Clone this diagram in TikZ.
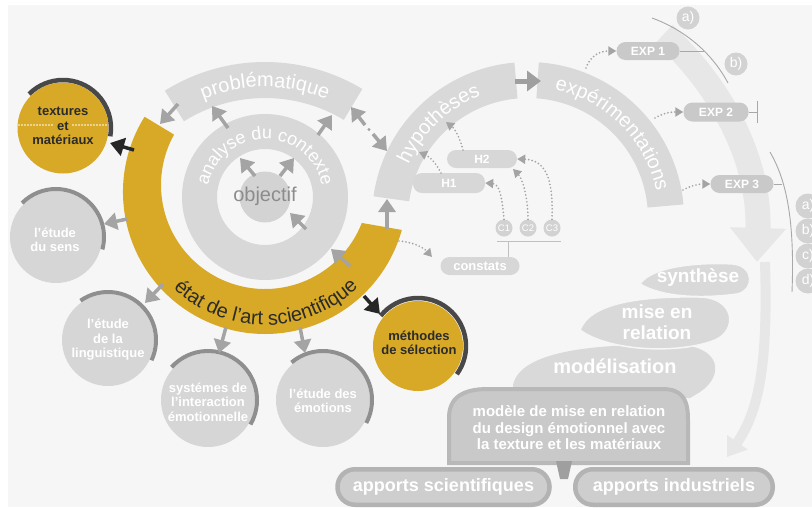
\documentclass[tikz,border=0pt]{standalone}
\usepackage{fontspec}
\setmainfont{Liberation Sans}
\usetikzlibrary{arrows.meta,decorations.text,calc}
\definecolor{bg}{HTML}{F6F6F6}
\definecolor{ltgray}{HTML}{D9D9D9}
\definecolor{ringgray}{HTML}{D8D8D8}
\definecolor{objgray}{HTML}{D3D3D3}
\definecolor{ygold}{HTML}{D7A927}
\definecolor{argray}{HTML}{A4A4A4}
\definecolor{darkar}{HTML}{262626}
\definecolor{circgray}{HTML}{D6D6D6}
\definecolor{arcgray}{HTML}{8F8F8F}
\definecolor{arcdark}{HTML}{484848}
\definecolor{expgray}{HTML}{C9C9C9}
\definecolor{hgray}{HTML}{D7D7D7}
\definecolor{lcgray}{HTML}{D2D2D2}
\definecolor{biggray}{HTML}{E7E7E7}
\definecolor{boxfill}{HTML}{C9C9C9}
\definecolor{boxedge}{HTML}{B8B8B8}
\definecolor{appfill}{HTML}{CECECE}
\definecolor{appedge}{HTML}{B3B3B3}
\definecolor{txtdark}{HTML}{2B2B2B}
\definecolor{objtxt}{HTML}{8C8C8C}
\definecolor{thinln}{HTML}{A8A8A8}
\definecolor{blobgray}{HTML}{D9D9D9}
\definecolor{linkgray}{HTML}{9F9F9F}
\definecolor{brackgray}{HTML}{C0C0C0}
\newcommand{\ringsec}[6]{\fill[#6] ($(#1)+(#4:#3)$) arc[start angle=#4, end angle=#5, radius=#3] -- ($(#1)+(#5:#2)$) arc[start angle=#5, end angle=#4, radius=#2] -- cycle;}
\newcommand{\arctext}[6]{\path[decorate, decoration={text along path, text align=center, text={|#5|#6}}] ($(#1)+(#3:#2)$) arc[start angle=#3, end angle=#4, radius=#2];}
\begin{document}
\begin{tikzpicture}[x=1pt,y=-1pt,
  garr/.style={draw=argray, line width=3.5pt, -{Triangle[length=13pt,width=17pt]}},
  darr/.style={draw=darkar, line width=3.5pt, -{Triangle[length=14pt,width=18pt]}},
  dotarr/.style={draw=argray, line width=1.9pt, dash pattern=on 0pt off 3.5pt, line cap=round, -{Triangle[length=8pt,width=9pt]}},
  gcirc/.style={circle, fill=circgray, minimum size=#1, inner sep=0pt},
  gcirc/.default=92pt,
  ycirc/.style={circle, fill=ygold, minimum size=#1, inner sep=0pt},
  ycirc/.default=90pt,
  wlab/.style={text=white, font=\bfseries\fontsize{13pt}{14.5pt}\selectfont, align=center, inner sep=0pt},
  dlab/.style={text=txtdark, font=\bfseries\fontsize{13pt}{14.5pt}\selectfont, align=center, inner sep=0pt},
  pill/.style={rectangle, rounded corners=9pt, fill=#1, minimum height=18pt, inner sep=0pt, text=white, font=\bfseries\fontsize{12pt}{12pt}\selectfont},
  pill/.default=hgray,
  smallc/.style={circle, fill=lcgray, minimum size=17pt, inner sep=0pt, text=white, font=\fontsize{9.5pt}{10pt}\selectfont},
  letc/.style={circle, fill=lcgray, minimum size=#1, inner sep=0pt, text=white, font=\fontsize{14pt}{14pt}\selectfont},
  letc/.default=24pt,
  bigpill/.style={rectangle, rounded corners=17.5pt, fill=appfill, draw=appedge, line width=4.5pt, minimum height=35.5pt, inner sep=0pt, text=white, font=\bfseries\fontsize{18pt}{18pt}\selectfont},
  blobtxt/.style={text=white, font=\bfseries\fontsize{19pt}{21pt}\selectfont, align=center, inner sep=0pt},
  thinline/.style={draw=thinln, line width=0.9pt},
  bigarrow/.style={draw=biggray, line cap=butt},
  blobedge/.style={draw=bg, line width=1.5pt},
]
\useasboundingbox (0,0) rectangle (812,507);
\fill[white] (0,0) rectangle (812,507);
\fill[bg] (8,5) rectangle (812,507);
\clip (0,0) rectangle (812,507);

\coordinate (O) at (265,197);
\coordinate (P) at (265,251);
\coordinate (HC) at (528,218);
\coordinate (Yo) at (265,192);
\coordinate (Yi) at (265,185);

% big light arrows on the right
\draw[bigarrow, line width=25pt, -{Triangle[length=34pt,width=54pt]}] (664,34) .. controls (722,88) and (760,160) .. (757,262);
\draw[bigarrow, line width=10pt, -{Triangle[length=18pt,width=24pt]}] (765,262) .. controls (768,360) and (760,410) .. (727,457);

% thin curves
\draw[thinline] (652,18) .. controls (685,30) and (712,53) .. (728,83);
\draw[thinline] (770,152) .. controls (785,178) and (795,215) .. (792,292);

% rings
\ringsec{P}{153}{189}{-122}{-59}{ltgray}
\fill[ringgray, even odd rule] (O) circle[radius=83] (O) circle[radius=48];
\node[circle, fill=objgray, minimum size=51pt, inner sep=0pt] (obj) at (O) {};
\node[text=objtxt, font=\fontsize{20pt}{20pt}\selectfont, inner sep=0pt] (objt) at (265,196) {objectif};
\fill[ygold] ($(Yo)+(-148:142)$) arc[start angle=-148, end angle=-344.5, radius=142] -- ($(Yi)+(-338.6:104)$) arc[start angle=-338.6, end angle=-151, radius=104] -- cycle;
\ringsec{HC}{120}{156}{-172}{-95}{ltgray}
\ringsec{HC}{120}{156}{-86}{-5}{ltgray}

% texts along the rings
\arctext{P}{164}{-125}{-55}{\color{white}\fontsize{20pt}{20pt}\selectfont}{problématique}
\arctext{O}{58}{-185}{5}{\color{white}\fontsize{18pt}{18pt}\selectfont}{analyse du contexte}
\arctext{Yo}{133}{-200}{-341}{\color{txtdark}\fontsize{20pt}{20pt}\selectfont}{état de l’art scientifique}
\arctext{HC}{131}{-172}{-95}{\color{white}\fontsize{20pt}{20pt}\selectfont}{hypothèses}
\arctext{HC}{131}{-86}{-4}{\color{white}\fontsize{20pt}{20pt}\selectfont}{expérimentations}

% arrow hyp -> exp
\coordinate (hx1) at (515,81);
\coordinate (hx2) at (541,81);
\draw[draw=linkgray, line width=5pt, -{Triangle[length=14pt,width=20pt]}] (hx1) -- (hx2);

% left circles
\node[ycirc=91pt] (tex) at (63,128) {};
\draw[arcdark, line width=4.5pt] ($(tex)+(-135:48)$) arc[start angle=-135, end angle=10, radius=48];
\draw[white, line width=1.6pt, dash pattern=on 0pt off 3pt, line cap=round] (19,125) -- (54,125);
\draw[white, line width=1.6pt, dash pattern=on 0pt off 3pt, line cap=round] (73,125) -- (107,125);
\node[dlab] (texl) at (63,126) {textures\\et\\matériaux};

\node[gcirc=92pt] (sens) at (56,237) {};
\draw[arcgray, line width=4pt] ($(sens)+(-135:48)$) arc[start angle=-135, end angle=15, radius=48];
\node[wlab] (sensl) at (55,240) {l’étude\\du sens};

\node[gcirc=92pt] (ling) at (108,340) {};
\draw[arcgray, line width=4pt] ($(ling)+(-125:48)$) arc[start angle=-125, end angle=25, radius=48];
\node[wlab] (lingl) at (108,340) {l’étude\\de la\\linguistique};

\node[gcirc=94pt] (sys) at (208,400) {};
\draw[arcgray, line width=4pt] ($(sys)+(-138:49)$) arc[start angle=-138, end angle=30, radius=49];
\node[wlab] (sysl) at (208,402) {systémes de\\l’interaction\\émotionnelle};

\node[gcirc=94pt] (emo) at (323,400) {};
\draw[arcgray, line width=4pt] ($(emo)+(-130:49)$) arc[start angle=-130, end angle=28, radius=49];
\node[wlab] (emol) at (323,401) {l’étude des\\émotions};

\node[ycirc=90pt] (meth) at (418,346) {};
\draw[arcdark, line width=4.5pt] ($(meth)+(-141:48)$) arc[start angle=-141, end angle=36, radius=48];
\node[dlab] (methl) at (419,343) {méthodes\\de sélection};

% solid arrows
\coordinate (a1t) at (178,104); \coordinate (a1h) at (160,124);
\coordinate (a2t) at (228,128); \coordinate (a2h) at (212,106);
\coordinate (a3t) at (318,135); \coordinate (a3h) at (332,115);
\coordinate (hp1) at (365,125); \coordinate (hp1h) at (351,107);
\coordinate (hp2) at (373,134); \coordinate (hp2h) at (387,151);
\coordinate (a6t) at (255,176); \coordinate (a6h) at (240,158);
\coordinate (a7t) at (280,176); \coordinate (a7h) at (294,158);
\coordinate (a8t) at (306,229); \coordinate (a8h) at (290,213);
\coordinate (a9t) at (350,266); \coordinate (a9h) at (331,249);
\coordinate (a10t) at (387,229); \coordinate (a10h) at (387,199);
\coordinate (a11t) at (134,150);
\coordinate (a12t) at (127,219);
\coordinate (a13t) at (163,284);
\coordinate (a14t) at (226,327);
\coordinate (a15t) at (300,327);
\coordinate (a16t) at (364,296);
\draw[garr] (a1t) -- (a1h);
\draw[garr] (a2t) -- (a2h);
\draw[garr] (a3t) -- (a3h);
\draw[garr] (hp1) -- (hp1h);
\draw[garr] (hp2) -- (hp2h);
\fill[argray] (369,129.5) circle[radius=1.6];
\draw[garr] (a6t) -- (a6h);
\draw[garr] (a7t) -- (a7h);
\draw[garr] (a8t) -- (a8h);
\draw[garr] (a9t) -- (a9h);
\draw[garr] (a10t) -- (a10h);
\draw[darr] (a11t) -- (110,143);
\draw[garr] (a12t) -- (104,224);
\draw[garr] (a13t) -- (145,303);
\draw[garr] (a14t) -- (219,353);
\draw[garr] (a15t) -- (305,353);
\draw[darr] (a16t) -- (380,314);

% hypotheses side
\node[pill, minimum width=72pt, minimum height=20pt] (h1) at (449,183) {H1};
\node[pill, minimum width=70pt] (h2) at (482,159) {H2};
\node[smallc] (c1) at (504,228) {C1};
\node[smallc] (c2) at (528,228) {C2};
\node[smallc] (c3) at (552,228) {C3};
\node[pill, minimum width=79pt, font=\bfseries\fontsize{13pt}{13pt}\selectfont] (cons) at (480,266) {constats};
\coordinate (brl) at (497,241);
\coordinate (brr) at (561,241);
\coordinate (brm) at (508,241);
\draw[draw=brackgray, line width=1pt] (brl) -- (brr);
\draw[draw=brackgray, line width=1pt] (brm) -- (brm |- cons.north);

\coordinate (d1t) at (399,241); \coordinate (d1h) at (432,257);
\draw[dotarr] (d1t) .. controls (412,242) and (423,247) .. (d1h);
\coordinate (d2t) at (441,173); \coordinate (d2h) at (419,152);
\draw[dotarr] (d2t) .. controls (436,163) and (430,157) .. (d2h);
\coordinate (d3t) at (463,150); \coordinate (d3h) at (446,122);
\draw[dotarr] (d3t) .. controls (460,138) and (455,129) .. (d3h);
\draw[dotarr] (c1.north) .. controls (502,198) and (500,184) .. (h1.east);
\coordinate (d5h) at (513,169);
\draw[dotarr] (c2.north) .. controls (528,196) and (522,178) .. (d5h);
\draw[dotarr] (c3.north) .. controls (553,188) and (550,160) .. (h2.east);

% experiments
\node[pill=expgray, minimum width=63pt] (exp1) at (648,51) {EXP 1};
\node[pill=expgray, minimum width=65pt, minimum height=19pt] (exp2) at (716,112) {EXP 2};
\node[pill=expgray, minimum width=63pt] (exp3) at (742,184) {EXP 3};
\coordinate (e1t) at (586,68);
\coordinate (e2t) at (655,118);
\coordinate (e3t) at (683,190);
\draw[dotarr] (e1t) .. controls (590,57) and (598,51) .. (exp1.west);
\draw[dotarr] (e2t) .. controls (663,113) and (671,112) .. (exp2.west);
\draw[dotarr] (e3t) .. controls (690,186) and (698,184) .. (exp3.west);
\coordinate (e1c) at (704,51);
\coordinate (e2c) at (757,112);
\coordinate (e3c) at (782,184);
\draw[thinline] (exp1.east) -- (e1c);
\draw[thinline] (exp2.east) -- (e2c);
\draw[thinline] (757,101) -- (757,123);
\draw[thinline] (exp3.east) -- (e3c);

\node[letc=23pt] (la) at (688,18) {a)};
\node[letc=23pt] (lb) at (736,64) {b)};
\node[letc=25pt] (ra) at (808,206) {a)};
\node[letc=25pt] (rb) at (808,231) {b)};
\node[letc=25pt] (rc) at (808,256) {c)};
\node[letc=25pt] (rd) at (808,281) {d)};

% synthesis blobs
\fill[blobgray] (513,385) .. controls (520,352) and (590,343) .. (680,345) .. controls (720,347) and (725,375) .. (700,392) -- (690,398) -- (513,398) -- cycle;
\path[blobedge, fill=blobgray] (580,330) .. controls (590,303) and (640,296) .. (700,297) .. controls (735,298) and (738,330) .. (715,340) .. controls (680,354) and (610,352) .. (580,330) -- cycle;
\path[blobedge, fill=blobgray] (640,284) .. controls (652,266) and (700,262) .. (733,264) .. controls (754,266) and (755,290) .. (737,294) .. controls (700,299) and (662,297) .. (640,284) -- cycle;
\node[blobtxt] (synt) at (698,277) {synthèse};
\node[blobtxt] (mise) at (657,322) {mise en\\relation};
\node[blobtxt, font=\bfseries\fontsize{20pt}{20pt}\selectfont] (modl) at (615,366) {modélisation};

% model box
\path[fill=boxfill, draw=boxedge, line width=4pt] (449,463) -- (449,418) .. controls (449,398) and (462,389) .. (488,389) -- (662,389) .. controls (683,389) and (688,400) .. (688,420) -- (688,463) -- cycle;
\node[text=white, font=\bfseries\fontsize{15pt}{16.5pt}\selectfont, align=center, inner sep=0pt] (boxt) at (569,428) {modèle de mise en relation\\du design émotionnel avec\\la texture et les matériaux};
\fill[linkgray] (556,461) -- (572,461) -- (568,479) -- (560,479) -- cycle;

% contributions
\node[bigpill, minimum width=212pt] (appsci) at (443.5,487) {apports scientifiques};
\node[bigpill, minimum width=197.5pt] (appind) at (674,487) {apports industriels};
\end{tikzpicture}
\end{document}
